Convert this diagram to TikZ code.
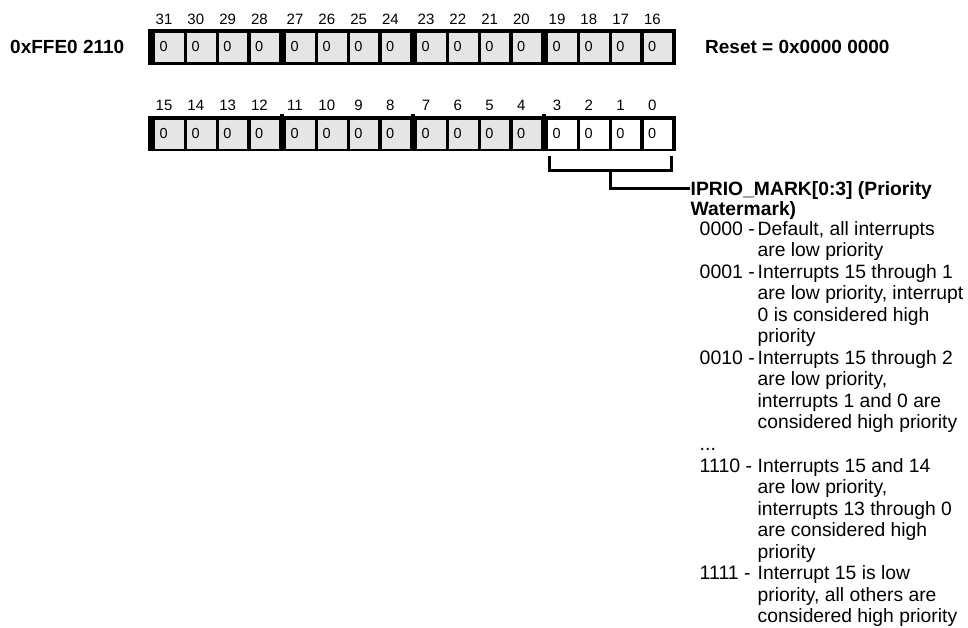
\documentclass[tikz,border=0pt]{standalone}
\usepackage{fontspec}
\setmainfont{Liberation Sans}
\usetikzlibrary{calc}
\begin{document}
\begin{tikzpicture}[x=1pt,y=-1pt,
  regbg/.style={fill=black,draw=none},
  cellgray/.style={fill=gray!20,draw=none,inner sep=0pt,minimum width=28.5pt,minimum height=29pt,anchor=north west},
  cellwhite/.style={fill=white,draw=none,inner sep=0pt,minimum width=28.5pt,minimum height=29pt,anchor=north west},
  bitlbl/.style={inner sep=0pt,anchor=base,font=\fontsize{15}{18}\selectfont},
  cellval/.style={inner sep=0pt,anchor=base west,font=\fontsize{14.5}{17}\selectfont},
  boldlbl/.style={inner sep=0pt,anchor=base west,font=\fontsize{19}{22}\selectfont\bfseries},
  listnum/.style={inner sep=0pt,anchor=base west,font=\fontsize{19.5}{22}\selectfont},
  listtxt/.style={inner sep=0pt,anchor=base west,font=\fontsize{19.3}{22}\selectfont},
  bracketline/.style={line width=3.3pt,draw=black}
]
\useasboundingbox (0,0) rectangle (968,627);

% register address and reset value
\node[boldlbl] (addr) at (10,53) {0xFFE0 2110};
\node[boldlbl] (reset) at (705,53) {Reset = 0x0000 0000};

% ---- row 1: bits 31..16
\fill[regbg] (148,29.3) rectangle (676,64.7);
\foreach \j in {0,...,3}{
  \foreach \k in {0,...,3}{
    \pgfmathsetmacro\L{148+131*\j+7+31.8*\k}
    \pgfmathtruncatemacro\bit{31-4*\j-\k}
    \node[cellgray] (c\bit) at (\L,32.7) {};
    \node[cellval] (v\bit) at ($(c\bit.west)+(4.5,4)$) {0};
    \node[bitlbl] (l\bit) at (\L+9,24.3) {\bit};
  }
}

% ---- row 2: bits 15..0
\fill[regbg] (148,116) rectangle (676,151);
\foreach \j in {1,2,3}{
  \fill[regbg] (148+131*\j+1,113.5) rectangle (148+131*\j+5,116);
}
\foreach \j in {0,...,3}{
  \foreach \k in {0,...,3}{
    \pgfmathsetmacro\L{148+131*\j+7+31.8*\k}
    \pgfmathtruncatemacro\bit{15-4*\j-\k}
    \ifnum\j=3
      \node[cellwhite] (c\bit) at (\L,119.3) {};
    \else
      \node[cellgray] (c\bit) at (\L,119.3) {};
    \fi
    \node[cellval] (v\bit) at ($(c\bit.west)+(4.5,4)$) {0};
    \node[bitlbl] (l\bit) at (\L+9,110.7) {\bit};
  }
}

% ---- bracket under bits 3..0
\coordinate (bkl) at (549.3,156);
\coordinate (bkr) at (671.4,156);
\coordinate (bkh) at (0,170.5);
\coordinate (bkm) at ($(bkl)!0.5!(bkr)$);
\coordinate (bke) at (690,188.3);
\draw[bracketline] (bkl) -- (bkl |- bkh) -- (bkr |- bkh) -- (bkr);
\draw[bracketline] (bkm |- bkh) -- (bkm |- bke) -- (bke);

% ---- field description
\node[boldlbl,font=\fontsize{19.3}{22}\selectfont\bfseries] (title1) at (690.5,195) {IPRIO\_MARK[0:3] (Priority};
\node[boldlbl,font=\fontsize{19.3}{22}\selectfont\bfseries] (title2) at (690.5,215) {Watermark)};

\node[listnum] (n0) at (699.5,235+21.55*0) {0000 -};
\node[listnum] (n2) at (699.5,235+21.55*2) {0001 -};
\node[listnum] (n6) at (699.5,235+21.55*6) {0010 -};
\node[listnum] (n10) at (699.5,235+21.55*10) {.\kern0pt.\kern0pt.};
\node[listnum] (n11) at (699.5,235+21.55*11) {1110 -};
\node[listnum] (n16) at (699.5,235+21.55*16) {1111 -};

\foreach \k/\txt in {0/{Default, all interrupts},1/are low priority,
  2/Interrupts 15 through 1,3/{are low priority, interrupt},4/0 is considered high,5/priority,
  6/Interrupts 15 through 2,7/{are low priority,},8/interrupts 1 and 0 are,9/considered high priority,
  11/Interrupts 15 and 14,12/{are low priority,},13/interrupts 13 through 0,14/are considered high,15/priority,
  16/Interrupt 15 is low,17/{priority, all others are},18/considered high priority}{
  \node[listtxt] (t\k) at (757.5,235+21.55*\k) {\txt};
}
\end{tikzpicture}
\end{document}
